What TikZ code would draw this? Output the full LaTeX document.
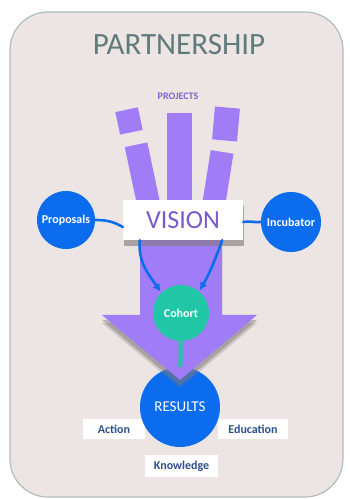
\documentclass[tikz,border=0pt]{standalone}
\usepackage{fontspec}
\setmainfont{Carlito}
\usetikzlibrary{positioning,arrows.meta,shadows}

\definecolor{panelfill}{HTML}{ECE5E4}
\definecolor{panelline}{HTML}{B0BDBD}
\definecolor{titlegray}{HTML}{5F7B7B}
\definecolor{lilac}{HTML}{A07DF6}
\definecolor{lilacdark}{HTML}{7A5AC8}
\definecolor{bluecirc}{HTML}{0B6CEE}
\definecolor{tealcirc}{HTML}{20C6A6}
\definecolor{navytext}{HTML}{2D4F8E}
\definecolor{shadowgray}{HTML}{7E7878}

\begin{document}
\begin{tikzpicture}[
    x=1pt, y=1pt,
    bar style/.style={fill=lilac, inner sep=0pt, minimum width=23, rotate=#1},
    bar style/.default=0,
    blue circle/.style={circle, fill=bluecirc, text=white, inner sep=0pt,
        minimum size=#1, font=\bfseries\fontsize{12}{12}\selectfont},
    label box/.style={fill=white, text=navytext, inner sep=0pt, minimum height=20,
        font=\bfseries\fontsize{12}{12}\selectfont},
    link/.style={draw=bluecirc, line width=2.6, line cap=round},
    link arrow/.style={link, -{Latex[length=8,width=8]}, shorten >=1}
]

% SAME BOUNDING BOX
\path[use as bounding box] (0,0) rectangle (350,499);

% PANEL AND TITLE
\draw[panelline, fill=panelfill, line width=1.2, rounded corners=38] (10,2) rectangle (343,487);
\node[text=titlegray, font=\fontsize{31}{31}\selectfont] (title) at (179,454) {PARTNERSHIP};
\node[text=lilacdark!80!lilac, font=\bfseries\fontsize{10}{10}\selectfont] (projects) at (178,403) {PROJECTS};

% RESULTS AND WHAT COMES OUT OF IT
\node[label box, minimum width=62] (action) at (114,70) {Action};
\node[label box, minimum width=70] (education) at (253,70) {Education};
\node[label box, minimum width=73, minimum height=22] (knowledge) at (181.5,33) {Knowledge};
\node[blue circle=80, font=\fontsize{15}{15}\selectfont] (results) at (180,92) {RESULTS};

% PROJECT BARS
\node[bar style=12, minimum height=23] (barA) at (129,378) {};
\node[bar style=12, minimum height=72] (barB) at (143.5,319) {};
\node[bar style, minimum width=25, minimum height=102] (barC) at (179.5,335) {};
\node[bar style=-5, minimum width=25, minimum height=33] (barD) at (226,375) {};
\node[bar style=-9, minimum height=65] (barE) at (217,315) {};

% BIG ARROW
\foreach \dy/\op in {-8/0.3, -5/0.45}
    \fill[shadowgray, opacity=\op] (140,280+\dy) -- (140,184+\dy) -- (102,184+\dy) -- (180,119+\dy)
        -- (257,184+\dy) -- (222,184+\dy) -- (222,280+\dy) -- cycle;
\fill[lilac] (140,280) -- (140,184) -- (102,184) -- (180,119) -- (257,184) -- (222,184) -- (222,280) -- cycle;

% VISION
\node[fill=white, minimum width=120, minimum height=40, inner sep=0pt, text=lilacdark,
    font=\fontsize{26}{26}\selectfont,
    drop shadow={shadow xshift=1, shadow yshift=-6, opacity=.6, fill=shadowgray}] (vision) at (183,279) {VISION};

\node[blue circle=58] (proposals) at (66,279) {Proposals};
\node[blue circle=60] (incubator) at (291,277) {Incubator};
\node[circle, fill=tealcirc, text=white, inner sep=0pt, minimum size=56,
    font=\bfseries\fontsize{12}{12}\selectfont] (cohort) at (181,186) {Cohort};

% LINKS
\draw[link] (proposals.east) to[out=0, in=150] ([yshift=-7]vision.west);
\draw[link] (incubator.west) to[out=185, in=10] ([yshift=-2]vision.east);
\draw[link arrow] ([xshift=17]vision.south west) to[out=-95, in=125] (cohort.134);
\draw[link arrow] ([xshift=-21]vision.south east) to[out=-110, in=60] (cohort.50);
\draw[tealcirc, line width=4] (cohort) -- (results);

\end{tikzpicture}
\end{document}
